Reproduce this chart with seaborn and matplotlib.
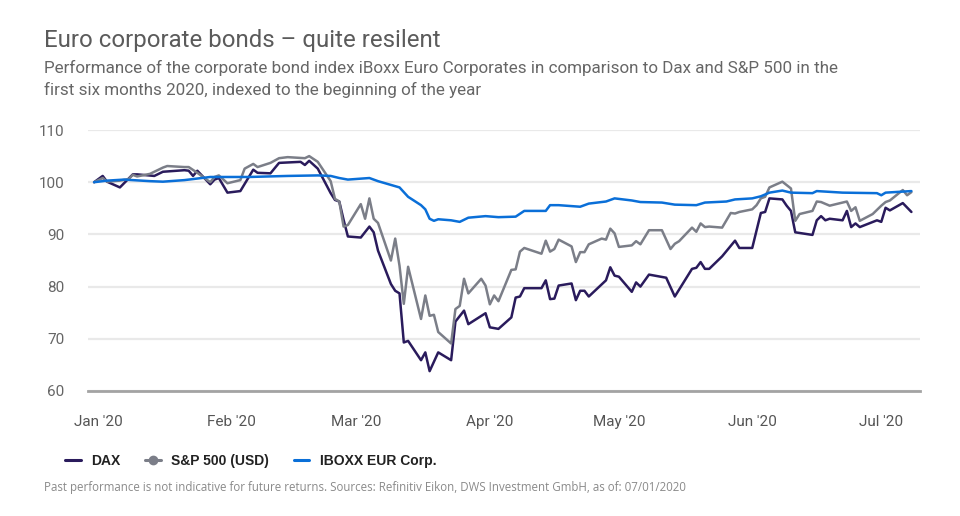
import pandas as pd
import matplotlib
matplotlib.use("Agg")
import matplotlib.pyplot as plt
import matplotlib.dates as mdates
from matplotlib.lines import Line2D
import seaborn as sns

# values (indexed, 31.12.2019 = 100)
dax_dates = [
    "2019-12-31", "2020-01-02", "2020-01-03", "2020-01-06", "2020-01-09", "2020-01-10",
    "2020-01-14", "2020-01-16", "2020-01-21", "2020-01-22", "2020-01-23", "2020-01-24",
    "2020-01-27", "2020-01-28", "2020-01-29", "2020-01-31", "2020-02-03", "2020-02-06",
    "2020-02-07", "2020-02-10", "2020-02-12", "2020-02-17", "2020-02-18", "2020-02-19",
    "2020-02-21", "2020-02-24", "2020-02-25", "2020-02-26", "2020-02-27", "2020-02-28",
    "2020-03-02", "2020-03-04", "2020-03-05", "2020-03-06", "2020-03-09", "2020-03-10",
    "2020-03-11", "2020-03-12", "2020-03-13", "2020-03-16", "2020-03-17", "2020-03-18",
    "2020-03-20", "2020-03-23", "2020-03-24", "2020-03-26", "2020-03-27", "2020-03-31",
    "2020-04-01", "2020-04-03", "2020-04-06", "2020-04-07", "2020-04-08", "2020-04-09",
    "2020-04-13", "2020-04-14", "2020-04-15", "2020-04-16", "2020-04-17", "2020-04-20",
    "2020-04-21", "2020-04-22", "2020-04-23", "2020-04-24", "2020-04-28", "2020-04-29",
    "2020-04-30", "2020-05-01", "2020-05-04", "2020-05-05", "2020-05-06", "2020-05-08",
    "2020-05-12", "2020-05-14", "2020-05-18", "2020-05-19", "2020-05-20", "2020-05-21",
    "2020-05-22", "2020-05-25", "2020-05-28", "2020-05-29", "2020-06-01", "2020-06-03",
    "2020-06-04", "2020-06-05", "2020-06-08", "2020-06-09", "2020-06-10", "2020-06-11",
    "2020-06-15", "2020-06-16", "2020-06-17", "2020-06-18", "2020-06-19", "2020-06-22",
    "2020-06-23", "2020-06-24", "2020-06-25", "2020-06-26", "2020-06-30", "2020-07-01",
    "2020-07-02", "2020-07-03", "2020-07-06", "2020-07-08",
]
dax_values = [
    100.0, 101.2, 100.1, 99.0, 101.5, 101.5,
    101.2, 102.0, 102.3, 102.2, 101.2, 102.2,
    99.6, 100.5, 100.8, 98.0, 98.3, 102.4,
    101.8, 101.7, 103.7, 103.9, 103.3, 104.1,
    102.6, 97.9, 96.6, 96.3, 92.8, 89.6,
    89.4, 91.5, 90.4, 86.9, 80.5, 79.2,
    78.7, 69.3, 69.6, 65.9, 67.4, 63.8,
    67.4, 65.9, 73.3, 75.4, 72.8, 74.9,
    72.2, 71.9, 74.1, 77.9, 78.1, 79.7,
    79.7, 81.2, 77.6, 77.7, 80.2, 80.6,
    77.4, 79.2, 79.2, 78.1, 81.2, 83.7,
    82.1, 81.9, 79.0, 80.8, 80.0, 82.3,
    81.7, 78.1, 83.4, 83.6, 84.7, 83.4,
    83.4, 85.8, 88.8, 87.4, 87.4, 94.1,
    94.3, 96.9, 96.7, 95.5, 94.5, 90.4,
    89.9, 92.7, 93.5, 92.7, 93.0, 92.7,
    94.5, 91.4, 92.1, 91.4, 92.7, 92.4,
    95.1, 94.6, 96.0, 94.3,
]

spx_dates = [
    "2019-12-31", "2020-01-02", "2020-01-03", "2020-01-06", "2020-01-08", "2020-01-09",
    "2020-01-10", "2020-01-13", "2020-01-16", "2020-01-17", "2020-01-21", "2020-01-22",
    "2020-01-24", "2020-01-27", "2020-01-28", "2020-01-29", "2020-01-31", "2020-02-03",
    "2020-02-04", "2020-02-06", "2020-02-07", "2020-02-10", "2020-02-12", "2020-02-14",
    "2020-02-18", "2020-02-19", "2020-02-21", "2020-02-24", "2020-02-25", "2020-02-26",
    "2020-02-27", "2020-02-28", "2020-03-02", "2020-03-03", "2020-03-04", "2020-03-05",
    "2020-03-06", "2020-03-09", "2020-03-10", "2020-03-11", "2020-03-12", "2020-03-13",
    "2020-03-16", "2020-03-17", "2020-03-18", "2020-03-19", "2020-03-20", "2020-03-23",
    "2020-03-24", "2020-03-25", "2020-03-26", "2020-03-27", "2020-03-30", "2020-03-31",
    "2020-04-01", "2020-04-02", "2020-04-03", "2020-04-06", "2020-04-07", "2020-04-08",
    "2020-04-09", "2020-04-13", "2020-04-14", "2020-04-15", "2020-04-16", "2020-04-17",
    "2020-04-20", "2020-04-21", "2020-04-22", "2020-04-23", "2020-04-24", "2020-04-27",
    "2020-04-28", "2020-04-29", "2020-04-30", "2020-05-01", "2020-05-04", "2020-05-05",
    "2020-05-06", "2020-05-08", "2020-05-11", "2020-05-13", "2020-05-14", "2020-05-15",
    "2020-05-18", "2020-05-19", "2020-05-20", "2020-05-21", "2020-05-22", "2020-05-25",
    "2020-05-27", "2020-05-28", "2020-05-29", "2020-06-01", "2020-06-02", "2020-06-03",
    "2020-06-04", "2020-06-05", "2020-06-08", "2020-06-10", "2020-06-11", "2020-06-12",
    "2020-06-15", "2020-06-16", "2020-06-17", "2020-06-19", "2020-06-23", "2020-06-24",
    "2020-06-25", "2020-06-26", "2020-06-29", "2020-07-01", "2020-07-02", "2020-07-03",
    "2020-07-06", "2020-07-07", "2020-07-08",
]
spx_values = [
    100.0, 100.8, 100.1, 100.3, 100.6, 101.4,
    101.1, 101.6, 102.8, 103.1, 102.9, 102.9,
    101.8, 100.0, 101.0, 101.3, 99.8, 100.4,
    102.6, 103.5, 102.9, 103.7, 104.6, 104.8,
    104.6, 105.0, 103.9, 100.2, 96.8, 96.3,
    91.5, 91.8, 95.8, 93.0, 96.9, 93.0,
    92.2, 85.0, 89.2, 84.0, 76.7, 83.8,
    73.8, 78.3, 74.4, 74.6, 71.3, 69.1,
    75.7, 76.3, 81.5, 78.7, 81.5, 80.2,
    76.6, 78.3, 77.2, 83.2, 83.3, 86.7,
    87.4, 86.3, 88.8, 86.7, 87.2, 89.0,
    87.7, 84.7, 86.6, 86.6, 88.1, 89.2,
    89.0, 91.1, 90.2, 87.6, 87.9, 88.7,
    88.1, 90.8, 90.8, 87.2, 88.2, 88.7,
    91.3, 90.5, 92.1, 91.4, 91.5, 91.3,
    94.1, 94.0, 94.3, 94.8, 95.6, 96.9,
    97.2, 99.0, 100.1, 98.8, 92.6, 93.9,
    94.5, 96.3, 96.2, 95.5, 96.3, 94.5,
    95.2, 92.6, 93.9, 95.5, 96.2, 96.5,
    98.5, 97.5, 98.1,
]

iboxx_dates = [
    "2019-12-31", "2020-01-03", "2020-01-07", "2020-01-13", "2020-01-16", "2020-01-21",
    "2020-01-27", "2020-02-05", "2020-02-14", "2020-02-21", "2020-02-24", "2020-02-26",
    "2020-02-28", "2020-03-04", "2020-03-06", "2020-03-11", "2020-03-13", "2020-03-16",
    "2020-03-17", "2020-03-18", "2020-03-19", "2020-03-20", "2020-03-23", "2020-03-25",
    "2020-03-27", "2020-03-31", "2020-04-03", "2020-04-07", "2020-04-09", "2020-04-14",
    "2020-04-15", "2020-04-17", "2020-04-22", "2020-04-24", "2020-04-28", "2020-04-30",
    "2020-05-04", "2020-05-06", "2020-05-11", "2020-05-14", "2020-05-19", "2020-05-21",
    "2020-05-26", "2020-05-28", "2020-06-01", "2020-06-03", "2020-06-05", "2020-06-08",
    "2020-06-10", "2020-06-15", "2020-06-16", "2020-06-22", "2020-06-30", "2020-07-01",
    "2020-07-02", "2020-07-08",
]
iboxx_values = [
    100.0, 100.3, 100.5, 100.2, 100.1, 100.4,
    101.0, 101.0, 101.2, 101.3, 101.2, 100.8,
    100.5, 100.8, 100.2, 99.0, 97.2, 95.6,
    94.8, 93.0, 92.6, 92.9, 92.7, 92.4,
    93.2, 93.5, 93.3, 93.4, 94.5, 94.5,
    95.6, 95.6, 95.3, 95.9, 96.3, 96.9,
    96.5, 96.2, 96.1, 95.7, 95.6, 96.1,
    96.3, 96.7, 96.9, 97.3, 98.0, 98.4,
    98.0, 97.9, 98.3, 98.0, 97.9, 97.5,
    98.0, 98.3,
]

series_names = ["DAX", "S&P 500 (USD)", "IBOXX EUR Corp."]
series_colors = ["#2a1b5c", "#7b7e88", "#0a6fd8"]
month_ticks = ["2020-01-01", "2020-02-01", "2020-03-01", "2020-04-01",
               "2020-05-01", "2020-06-01", "2020-07-01"]
y_ticks = [60, 70, 80, 90, 100, 110]

title = "Euro corporate bonds \u2013 quite resilent"
subtitle_1 = ("Performance of the corporate bond index iBoxx Euro Corporates in comparison "
              "to Dax and S&P 500 in the")
subtitle_2 = "first six months 2020, indexed to the beginning of the year"
footer = ("Past performance is not indicative for future returns. Sources: Refinitiv Eikon, "
          "DWS Investment GmbH, as of: 07/01/2020")


def to_frame(dates, values, name):
    return pd.DataFrame({"date": pd.to_datetime(dates), "value": values, "series": name})


df = pd.concat([
    to_frame(dax_dates, dax_values, series_names[0]),
    to_frame(spx_dates, spx_values, series_names[1]),
    to_frame(iboxx_dates, iboxx_values, series_names[2]),
], ignore_index=True)

sns.set_theme(style="white")
plt.rcParams["font.family"] = ["Roboto", "DejaVu Sans"]

fig = plt.figure(figsize=(9.6, 5.16), dpi=100)
ax = fig.add_axes([88 / 960, 125 / 516, 832 / 960, 261 / 516])

sns.lineplot(data=df, x="date", y="value", hue="series", hue_order=series_names,
             palette=dict(zip(series_names, series_colors)), estimator=None,
             linewidth=1.8, legend=False, ax=ax)

ax.set_xlim(pd.Timestamp("2019-12-29 14:00"), pd.Timestamp("2020-07-10"))
ax.set_ylim(60, 110)
ax.set_yticks(y_ticks)
ax.set_xticks(pd.to_datetime(month_ticks))
ax.xaxis.set_major_formatter(mdates.DateFormatter("%b '%y"))
ax.set_xlabel("")
ax.set_ylabel("")

ax.grid(axis="y", color="#e9e9e9", linewidth=1.6)
ax.grid(axis="x", visible=False)
ax.set_axisbelow(True)
for side in ["top", "right", "left"]:
    ax.spines[side].set_visible(False)
ax.spines["bottom"].set_color("#a3a3a3")
ax.spines["bottom"].set_linewidth(2)

ax.tick_params(axis="y", length=0, pad=17, labelsize=11, labelcolor="#666666")
ax.tick_params(axis="x", length=7, width=1.2, color="#a3a3a3", pad=10,
               labelsize=11, labelcolor="#555555")

fig.text(44 / 960, 1 - 47 / 516, title, fontsize=17.3, color="#5b5b5b", va="baseline")
fig.text(44 / 960, 1 - 73 / 516, subtitle_1, fontsize=12.25, color="#666666", va="baseline")
fig.text(44 / 960, 1 - 95 / 516, subtitle_2, fontsize=12.25, color="#666666", va="baseline")

handles = [
    Line2D([], [], color=series_colors[0], linewidth=2.2),
    Line2D([], [], color=series_colors[1], linewidth=2.2, marker="o", markersize=6),
    Line2D([], [], color=series_colors[2], linewidth=2.2),
]
fig.legend(handles, series_names, loc="center left", bbox_to_anchor=(65 / 960, 1 - 461 / 516),
           ncol=3, frameon=False, borderpad=0, borderaxespad=0, handlelength=1.15,
           handletextpad=0.75, columnspacing=1.75,
           prop={"family": ["Liberation Sans", "DejaVu Sans"], "weight": "bold", "size": 10})
for txt in fig.legends[0].get_texts():
    txt.set_color("#222222")

fig.text(44 / 960, 1 - 491 / 516, footer, fontsize=8.3, color="#8a8a8a", va="baseline",
         family=["Open Sans", "DejaVu Sans"])

fig.savefig("out.png", dpi=100)
